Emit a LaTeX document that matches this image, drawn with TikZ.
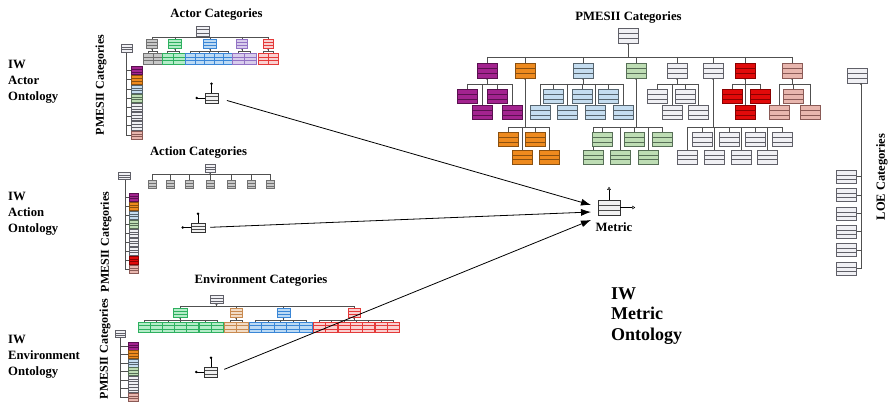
\documentclass[tikz,border=0pt]{standalone}
\usepackage{fontspec}
\setmainfont{Liberation Serif}
\usetikzlibrary{arrows.meta,calc}
\definecolor{cmag}{HTML}{A3238F}\definecolor{cmagd}{HTML}{5A1050}
\definecolor{cor}{HTML}{EE8A1E}\definecolor{cord}{HTML}{8A5010}
\definecolor{cbl}{HTML}{C5DDF0}\definecolor{cbld}{HTML}{56646E}
\definecolor{cgr}{HTML}{BEDDB4}\definecolor{cgrd}{HTML}{566E56}
\definecolor{cgy}{HTML}{F0F0F4}\definecolor{cgyd}{HTML}{606068}
\definecolor{crd}{HTML}{E10A0A}\definecolor{crdd}{HTML}{8A0000}
\definecolor{csa}{HTML}{E8B6AE}\definecolor{csad}{HTML}{8A5A56}
\definecolor{agy}{HTML}{C8C8C8}\definecolor{agyd}{HTML}{707070}
\definecolor{agn}{HTML}{B4ECC8}\definecolor{agnd}{HTML}{2EB060}
\definecolor{abl}{HTML}{BCDAF4}\definecolor{abld}{HTML}{3A86D6}
\definecolor{apu}{HTML}{D8CCEC}\definecolor{apud}{HTML}{9272C4}
\definecolor{ard}{HTML}{FAD0D0}\definecolor{ardd}{HTML}{E43A3A}
\definecolor{atn}{HTML}{F2DCC6}\definecolor{atnd}{HTML}{C88A50}
\definecolor{conncol}{HTML}{505050}
\tikzset{
  ub/.style={draw,line width=0.45pt},
  mag/.style={fill=cmag,draw=cmagd}, ora/.style={fill=cor,draw=cord},
  lbl/.style={fill=cbl,draw=cbld}, lgr/.style={fill=cgr,draw=cgrd},
  gy/.style={fill=cgy,draw=cgyd}, red/.style={fill=crd,draw=crdd},
  sal/.style={fill=csa,draw=csad},
  xgy/.style={fill=agy,draw=agyd}, xgn/.style={fill=agn,draw=agnd},
  xbl/.style={fill=abl,draw=abld}, xpu/.style={fill=apu,draw=apud},
  xrd/.style={fill=ard,draw=ardd}, xtn/.style={fill=atn,draw=atnd},
  conn/.style={draw=conncol,line width=0.6pt},
  txt/.style={font=\fontsize{12.7}{16}\selectfont\bfseries,inner sep=0pt},
  rtxt/.style={font=\fontsize{12}{14}\selectfont\bfseries,inner sep=0pt,rotate=90},
  proxy/.style={draw=black!80,fill=gray!12,line width=0.5pt,minimum width=13pt,
    minimum height=10pt,inner sep=0pt,
    path picture={\draw[black!70,line width=0.4pt]
      ($(path picture bounding box.north west)!0.35!(path picture bounding box.south west)$) --
      ($(path picture bounding box.north east)!0.35!(path picture bounding box.south east)$)
      ($(path picture bounding box.north west)!0.68!(path picture bounding box.south west)$) --
      ($(path picture bounding box.north east)!0.68!(path picture bounding box.south east)$);}},
  metricbox/.style={proxy,minimum width=22pt,minimum height=15pt},
  arr/.style={draw=black,line width=0.8pt,-{Latex[length=10pt,width=7pt]}},
}
\newcommand\ubox[5]{%
  \path[ub,#5] ({#1-(#3)/2},{#2-(#4)/2}) rectangle ({#1+(#3)/2},{#2+(#4)/2});
  \draw[ub,#5,fill=none,line width=0.35pt] ({#1-(#3)/2},{#2-(#4)/2+0.36*(#4)}) -- ++(#3,0)
     ({#1-(#3)/2},{#2-(#4)/2+0.68*(#4)}) -- ++(#3,0);}
\newcommand\bus[6]{%
  \draw[conn] (#1,#2) -- (#1,#3) (#4,#3) -- (#5,#3);
  \foreach \cx/\cy in {#6}{\draw[conn] (\cx,#3) -- (\cx,\cy);}
  \fill[conncol] (#1,{#2+0.8}) circle (1.1);}
\begin{document}
\begin{tikzpicture}[x=1pt,y=-1pt]
\useasboundingbox (0,0) rectangle (889,404);
\fill[white] (0,0) rectangle (889,404);

% ---------------- left labels
\node[txt,align=left,anchor=west] (actlbl) at (8,82) {IW\\Actor\\Ontology};
\node[txt,align=left,anchor=west] (acnlbl) at (8,214) {IW\\Action\\Ontology};
\node[txt,align=left,anchor=west] (envlbl) at (8,357) {IW\\Environment\\Ontology};

\node[rtxt] (pm1) at (101,85) {PMESII Categories};
\node[rtxt] (pm2) at (106,242) {PMESII Categories};
\node[rtxt] (pm3) at (105,349) {PMESII Categories};

% ---------------- actor tree
\node[txt] (t1) at (216.5,14) {Actor Categories};
\bus{203}{36}{37}{152}{268}{152/39,175/39,210/39,242/39,268/39}
\bus{152}{48}{51}{148}{157.5}{148/53,157.5/53}
\bus{175}{48}{51}{167.5}{179}{167.5/53,179/53}
\bus{210}{48}{51}{190}{228}{190/53,199.5/53,209/53,218.5/53,228/53}
\bus{242}{48}{51}{238}{250}{238/53,250/53}
\bus{268}{48}{51}{263}{273}{263/53,273/53}
\ubox{203}{31}{13}{10}{gy}
\ubox{152}{43.5}{11}{9}{xgy}
\ubox{175}{43.5}{13}{9}{xgn}
\ubox{210}{43.5}{13}{9}{xbl}
\ubox{242}{43.5}{11}{9}{xpu}
\ubox{268}{43.5}{10}{9}{xrd}
\foreach \x in {148,157.5} \ubox{\x}{58.5}{9.5}{11}{xgy};
\foreach \x in {167.5,179} \ubox{\x}{58.5}{11.5}{11}{xgn};
\foreach \x in {190,199.5,209,218.5,228} \ubox{\x}{58.5}{9.5}{11}{xbl};
\foreach \x in {238,250} \ubox{\x}{58.5}{12}{11}{xpu};
\foreach \x in {263,273} \ubox{\x}{58.5}{10}{11}{xrd};

% actor PMESII list
\draw[conn] (126,52) -- (126,135);
\foreach \y in {70.5,79.7,88.9,98.1,107.3,116.5,125.7,134.9} \draw[conn] (126,\y) -- (131,\y);
\ubox{127}{48}{11}{8}{gy}
\foreach \y/\s in {70.5/mag,79.7/ora,88.9/lbl,98.1/lgr,107.3/gy,116.5/gy,125.7/gy,134.9/sal}
  \ubox{136.5}{\y}{11}{8.2}{\s};

% ---------------- action tree
\node[txt] (t2) at (198.5,152) {Action Categories};
\bus{210}{172}{174}{152}{270}{152/180.5,170/180.5,189/180.5,210/180.5,231/180.5,251/180.5,270/180.5}
\ubox{210}{168}{10}{8}{gy}
\foreach \x in {152,170,189,210,231,251,270} \ubox{\x}{184.5}{8}{8}{xgy};

\draw[conn] (125,180) -- (125,270);
\foreach \y in {197,206,215,224,233,242,251,260,269} \draw[conn] (125,\y) -- (130,\y);
\ubox{124}{176}{12}{7}{gy}
\foreach \y/\s in {197/mag,206/ora,215/lbl,224/lgr,233/gy,242/gy,251/gy,260/red,269/sal}
  \ubox{134}{\y}{9}{8}{\s};

% ---------------- environment tree
\node[txt] (t3) at (261,280) {Environment Categories};
\bus{216.5}{303.5}{306}{180}{354}{180/308,236/308,283.5/308,354/308}
\bus{180}{317}{320}{144}{217}{144/322,156/322,168.5/322,180.5/322,192.5/322,205/322,217/322}
\bus{236}{317}{320}{230}{242}{230/322,242/322}
\bus{283.5}{317}{320}{255.3}{306}{255.3/322,268/322,280.5/322,293/322,306/322}
\bus{354}{317}{320}{319}{393.5}{319/322,331.5/322,344/322,356/322,368.5/322,381/322,393.5/322}
\ubox{216.5}{299.5}{13}{8}{gy}
\ubox{180}{312.5}{14}{9}{xgn}
\ubox{236}{312.5}{12}{9}{xtn}
\ubox{283.5}{312.5}{13}{9}{xbl}
\ubox{354}{312.5}{12}{9}{xrd}
\foreach \x in {144,156,168.5,180.5,192.5,205,217} \ubox{\x}{327}{12}{10}{xgn};
\foreach \x in {230,242} \ubox{\x}{327}{12}{10}{xtn};
\foreach \x in {255.3,268,280.5,293,306} \ubox{\x}{327}{12.6}{10}{xbl};
\foreach \x in {319,331.5,344,356,368.5,381,393.5} \ubox{\x}{327}{12.4}{10}{xrd};

\draw[conn] (120,337) -- (120,397);
\foreach \y in {346,354.5,363,371.5,380,388.5,397} \draw[conn] (120,\y) -- (128,\y);
\ubox{120}{334}{10}{7}{gy}
\foreach \y/\s in {346/mag,354.5/ora,363/lbl,371.5/lgr,380/gy,388.5/gy,397/sal}
  \ubox{133}{\y}{10}{7.8}{\s};

% ---------------- PMESII tree (right)
\node[txt] (t4) at (628.5,17) {PMESII Categories};
\bus{628}{43}{57}{487}{792}{487/63,525/63,583/63,636/63,677/63,713/63,745/63,792/63}
\bus{487}{78}{84}{467}{512}{467/89.5,497/89.5,482/105.5,512/105.5}
\bus{525}{78}{127}{508}{549}{508/132.5,535/132.5,522/150,549/150}
\bus{583}{78}{84}{540}{623}{553/89.5,582/89.5,608/89.5,540/105.5,567/105.5,595/105.5,623/105.5}
\bus{636}{78}{127}{593}{662}{602/132.5,634/132.5,662/132.5,593/150,620/150,648/150}
\bus{677}{78}{84}{657}{698}{657/89.5,685/89.5,672/105.5,698/105.5}
\bus{713}{78}{127}{687}{782}{702/132.5,729/132.5,755/132.5,782/132.5,687/150,714/150,741/150,767/150}
\bus{745}{78}{84}{732}{760}{732/89.5,760/89.5,745/105.5}
\bus{792}{78}{84}{779}{810}{793/89.5,779/105.5,810/105.5}
\ubox{628}{35.5}{20}{15}{gy}
\foreach \x/\s in {487/mag,525/ora,583/lbl,636/lgr,677/gy,713/gy,745/red,792/sal}
  \ubox{\x}{70.5}{20}{15}{\s};
\foreach \x in {467,497} \ubox{\x}{96.5}{20}{14}{mag};
\foreach \x in {482,512} \ubox{\x}{112.5}{20}{14}{mag};
\foreach \x in {508,535} \ubox{\x}{139.5}{20}{14}{ora};
\foreach \x in {522,549} \ubox{\x}{157}{20}{14}{ora};
\foreach \x in {553,582,608} \ubox{\x}{96.5}{20}{14}{lbl};
\foreach \x in {540,567,595,623} \ubox{\x}{112.5}{20}{14}{lbl};
\foreach \x in {602,634,662} \ubox{\x}{139.5}{20}{14}{lgr};
\foreach \x in {593,620,648} \ubox{\x}{157}{20}{14}{lgr};
\foreach \x in {657,685} \ubox{\x}{96.5}{20}{14}{gy};
\foreach \x in {672,698} \ubox{\x}{112.5}{20}{14}{gy};
\foreach \x in {702,729,755,782} \ubox{\x}{139.5}{20}{14}{gy};
\foreach \x in {687,714,741,767} \ubox{\x}{157}{20}{14}{gy};
\foreach \x in {732,760} \ubox{\x}{96.5}{20}{14}{red};
\foreach \x in {745} \ubox{\x}{112.5}{20}{14}{red};
\foreach \x in {793} \ubox{\x}{96.5}{20}{14}{sal};
\foreach \x in {779,810} \ubox{\x}{112.5}{20}{14}{sal};

% ---------------- LOE
\draw[conn] (861,83) -- (861,268.5);
\foreach \y in {176.5,195,213.5,231.5,250,268.5} \draw[conn] (856,\y) -- (861,\y);
\ubox{857}{75.5}{20}{15}{gy}
\fill[conncol] (861,84) circle (1.1);
\foreach \y in {176.5,195,213.5,231.5,250,268.5} \ubox{846}{\y}{20}{13}{gy};
\node[rtxt,font=\fontsize{12.5}{14}\selectfont\bfseries] (loe) at (882,177) {LOE Categories};

% ---------------- proxies and metric
\node[proxy] (pa) at (211.5,98) {};
\node[proxy,minimum width=14pt,minimum height=9pt] (pc) at (198,227.5) {};
\node[proxy] (pe) at (211,372) {};
\foreach \p in {pa,pc,pe}{
  \draw[black,line width=0.5pt] (\p.north) -- ++(0,-9) coordinate (\p up);
  \fill (\p up) circle (1.3);
  \draw[black,line width=0.5pt] (\p.west) -- ++(-8,0) coordinate (\p lf);
  \fill (\p lf) circle (1.3);
}
\node[metricbox] (metric) at (609,207.5) {};
\node[txt,anchor=north] (metriclbl) at (614,222) {Metric};
\draw[black,line width=0.5pt,-{Triangle[open,length=3pt,width=3.5pt]}] (metric.north) -- ++(0,-13);
\draw[black,line width=0.5pt,-{Triangle[open,length=3pt,width=3.5pt]}] (metric.east) -- ++(15,0);

\coordinate (m1) at (591,205);
\coordinate (m2) at (591,212);
\coordinate (m3) at (591,220);
\draw[arr,shorten <=9pt] (pa.east) -- (m1);
\draw[arr,shorten <=5pt] (pc.east) -- (m2);
\draw[arr,shorten <=7pt] (pe.east) -- (m3);

\node[anchor=west,align=left,inner sep=0pt,font=\fontsize{18}{20.5}\selectfont\bfseries] (mo) at (611,316) {IW\\Metric\\Ontology};
\end{tikzpicture}
\end{document}
